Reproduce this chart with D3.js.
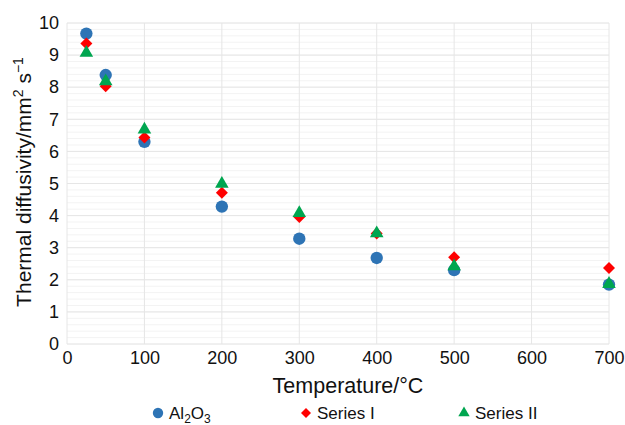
<!DOCTYPE html>
<html>
<head>
<meta charset="utf-8">
<script src="https://cdn.jsdelivr.net/npm/d3@7"></script>
<style>
  body { margin: 0; background: #fff; }
  text { font-family: "Liberation Sans", Arial, sans-serif; fill: #111; }
</style>
</head>
<body>
<div id="chart"></div>
<script>
//---------------------------DATA---------------------------//
const temps = [25, 50, 100, 200, 300, 400, 500, 700];
const al2o3 = [9.67, 8.38, 6.30, 4.28, 3.28, 2.68, 2.30, 1.85];
const series1 = [9.36, 8.03, 6.43, 4.71, 3.96, 3.44, 2.70, 2.37];
const series2 = [9.07, 8.18, 6.68, 4.99, 4.08, 3.45, 2.42, 1.87];
const xTicks = [0, 100, 200, 300, 400, 500, 600, 700];
const yTicks = [0, 1, 2, 3, 4, 5, 6, 7, 8, 9, 10];

//---------------------------SVG----------------------------//
const width = 625, height = 425;
const plotLeft = 67, plotRight = 609, plotTop = 23, plotBottom = 344;

const svg = d3.select("#chart").append("svg")
    .attr("width", width)
    .attr("height", height);

const x = d3.scaleLinear().domain([0, 700]).range([plotLeft, plotRight]);
const y = d3.scaleLinear().domain([0, 10]).range([plotBottom, plotTop]);

// minor grid
svg.append("g").selectAll("line")
    .data(d3.range(0, 10.01, 0.2))
    .enter().append("line")
    .attr("x1", plotLeft).attr("x2", plotRight)
    .attr("y1", d => y(d)).attr("y2", d => y(d))
    .attr("stroke", "#f3f3f3").attr("stroke-width", 1);

// major grid
svg.append("g").selectAll("line")
    .data(yTicks)
    .enter().append("line")
    .attr("x1", plotLeft).attr("x2", plotRight)
    .attr("y1", d => y(d)).attr("y2", d => y(d))
    .attr("stroke", "#e6e6e6").attr("stroke-width", 1);

svg.append("g").selectAll("line")
    .data(xTicks)
    .enter().append("line")
    .attr("x1", d => x(d)).attr("x2", d => x(d))
    .attr("y1", plotTop).attr("y2", plotBottom)
    .attr("stroke", "#e6e6e6").attr("stroke-width", 1);

//---------------------------AXES---------------------------//
const xAxis = d3.axisBottom(x).tickValues(xTicks).tickSize(0).tickPadding(7);
const yAxis = d3.axisLeft(y).tickValues(yTicks).tickSize(0).tickPadding(8);

svg.append("g")
    .attr("transform", "translate(0," + plotBottom + ")")
    .call(xAxis)
    .call(g => g.select(".domain").remove())
    .selectAll("text")
    .style("font-size", "18px")
    .style("font-family", "Liberation Sans, Arial, sans-serif")
    .attr("fill", "#111");

svg.append("g")
    .attr("transform", "translate(" + plotLeft + ",0)")
    .call(yAxis)
    .call(g => g.select(".domain").remove())
    .selectAll("text")
    .style("font-size", "18px")
    .style("font-family", "Liberation Sans, Arial, sans-serif")
    .attr("fill", "#111");

// axis titles
svg.append("text")
    .attr("x", 348)
    .attr("y", 393)
    .attr("text-anchor", "middle")
    .style("font-size", "21.5px")
    .text("Temperature/°C");

const yt = svg.append("text")
    .attr("transform", "translate(31,182) rotate(-90)")
    .attr("text-anchor", "middle")
    .style("font-size", "21px");
yt.append("tspan").text("Thermal diffusivity/mm");
yt.append("tspan").attr("dy", -8).style("font-size", "14px").text("2");
yt.append("tspan").attr("dy", 8).text(" s");
yt.append("tspan").attr("dy", -8).style("font-size", "14px").text("−1");

//--------------------------POINTS--------------------------//
const diamond = { draw: function(ctx, size) {
    const r = Math.sqrt(size / 2);
    ctx.moveTo(0, -r); ctx.lineTo(r, 0); ctx.lineTo(0, r); ctx.lineTo(-r, 0); ctx.closePath();
} };

const series = [
    { name: "Al2O3", values: al2o3, color: "#2e74b5", shape: d3.symbolCircle, size: 120 },
    { name: "Series I", values: series1, color: "#ff0000", shape: diamond, size: 72 },
    { name: "Series II", values: series2, color: "#00a650", shape: d3.symbolTriangle, size: 80 }
];

series.forEach(function(s) {
    svg.append("g").selectAll("path")
        .data(temps.map((t, i) => ({ t: t, v: s.values[i] })))
        .enter().append("path")
        .attr("d", d3.symbol().type(s.shape).size(s.size))
        .attr("transform", d => "translate(" + x(d.t) + "," + y(d.v) + ")")
        .attr("fill", s.color);
});

//--------------------------LEGEND--------------------------//
const legendX = [158, 306, 464];
const legend = svg.append("g");
series.forEach(function(s, i) {
    legend.append("path")
        .attr("d", d3.symbol().type(s.shape).size(s.size * 0.7))
        .attr("transform", "translate(" + legendX[i] + ",413)")
        .attr("fill", s.color);
    const t = legend.append("text")
        .attr("x", legendX[i] + 11)
        .attr("y", 419)
        .style("font-size", "17px");
    if (i === 0) {
        t.append("tspan").text("Al");
        t.append("tspan").attr("dy", 4).style("font-size", "12px").text("2");
        t.append("tspan").attr("dy", -4).text("O");
        t.append("tspan").attr("dy", 4).style("font-size", "12px").text("3");
    } else {
        t.text(s.name);
    }
});
</script>
</body>
</html>
